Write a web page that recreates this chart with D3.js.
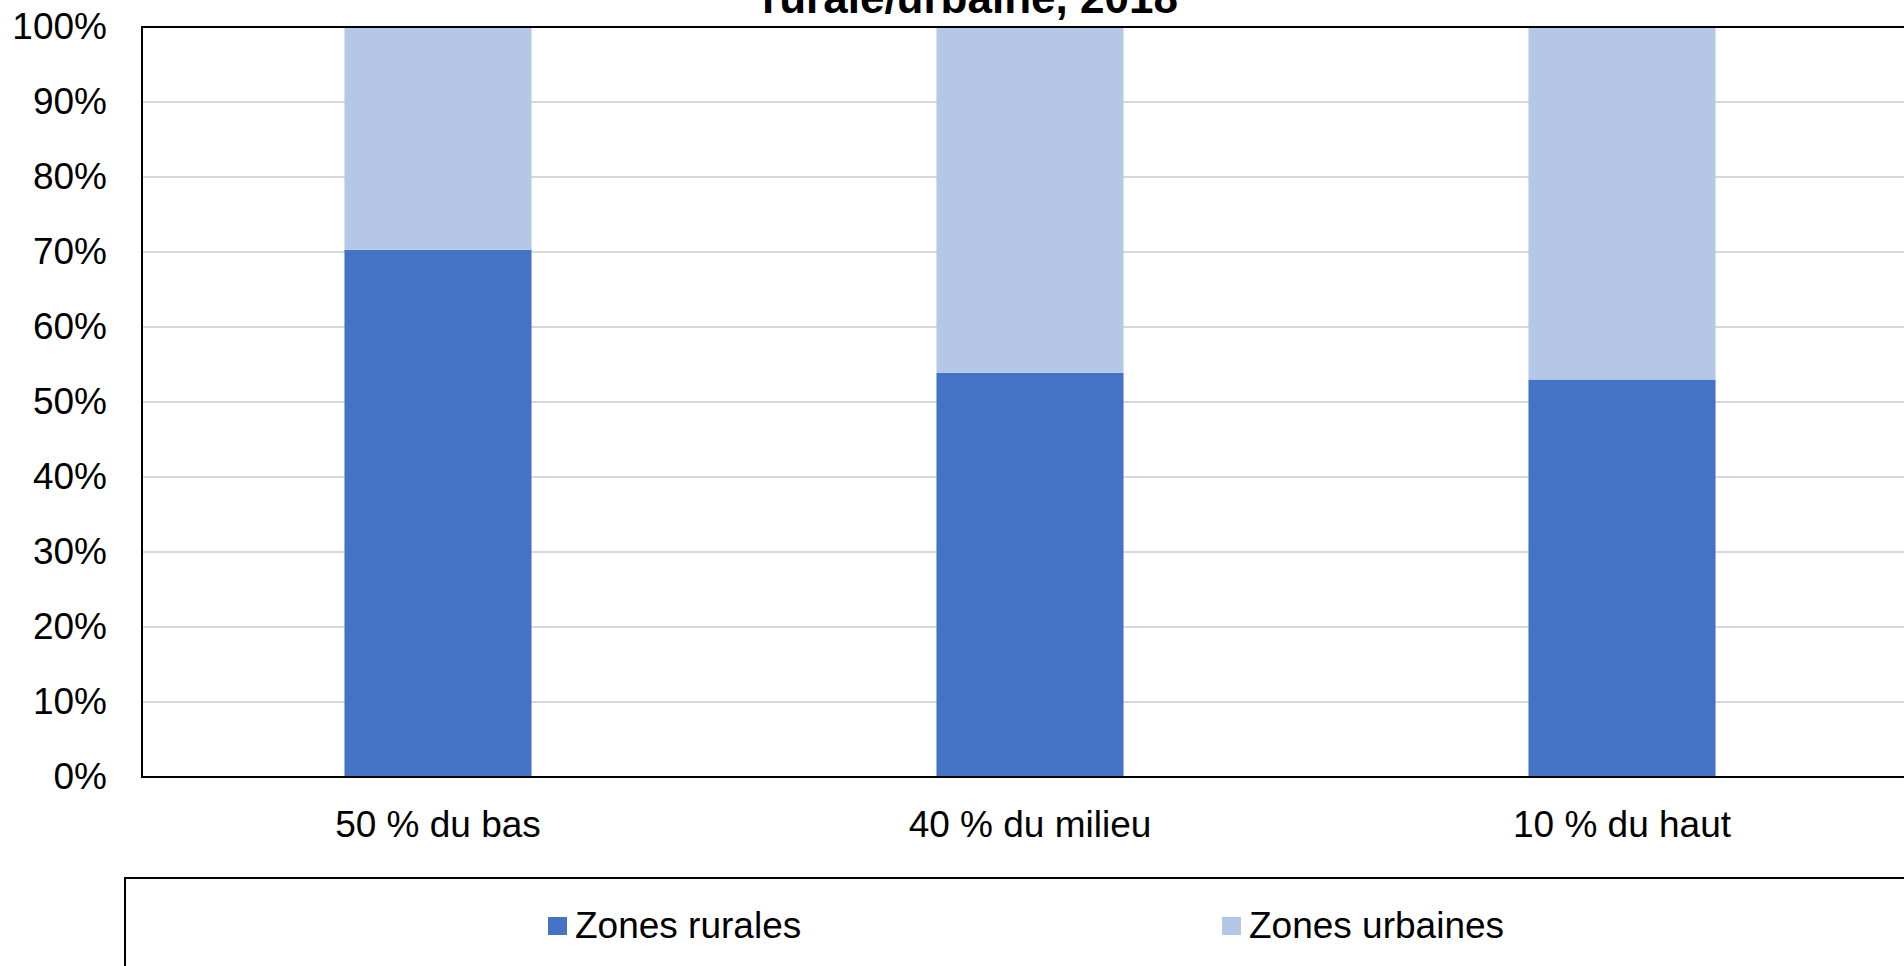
<!DOCTYPE html>
<html>
<head>
<meta charset="utf-8">
<script src="https://cdn.jsdelivr.net/npm/d3@7"></script>
<style>
  body { margin: 0; background: #fff; overflow: hidden; }
  text { font-family: "Liberation Sans", Arial, sans-serif; }
</style>
</head>
<body>
<div id="chart"></div>
<script>
// categories and the two stacked shares (percent)
var categories = ["50 % du bas", "40 % du milieu", "10 % du haut"];
var rural = [70.3, 53.9, 53.0];
var urbain = [29.7, 46.1, 47.0];
var seriesNames = ["Zones rurales", "Zones urbaines"];
var yTicks = [0, 10, 20, 30, 40, 50, 60, 70, 80, 90, 100];
var titleText = "rurale/urbaine, 2018";

var W = 1904, H = 966;
var margin = {top: 27, left: 142, bottom: 189};
var plotW = 1776, plotH = H - margin.top - margin.bottom;

var svg = d3.select("#chart").append("svg")
    .attr("width", W).attr("height", H);

// title, cut at the top like the source
svg.append("text")
   .attr("x", 970).attr("y", 13)
   .attr("text-anchor", "middle")
   .style("font-size", "44px").style("font-weight", "bold")
   .text(titleText);

var g = svg.append("g")
    .attr("transform", "translate(" + margin.left + "," + margin.top + ")");

var x = d3.scaleBand().domain(categories).range([0, plotW]).paddingInner(0.684).paddingOuter(0.342);
var y = d3.scaleLinear().domain([0, 100]).range([plotH, 0]);

// gridlines
g.append("g").selectAll("line")
  .data(yTicks.filter(function(d) { return d > 0 && d < 100; }))
  .enter().append("line")
    .attr("x1", 0).attr("x2", plotW)
    .attr("y1", function(d) { return y(d); })
    .attr("y2", function(d) { return y(d); })
    .attr("stroke", "#d9d9d9").attr("stroke-width", 2);

// stacked bars
var rows = categories.map(function(c, i) { return {cat: c, rural: rural[i], urbain: urbain[i]}; });
var stack = d3.stack().keys(["rural", "urbain"])(rows);
var color = d3.scaleOrdinal().domain(["rural", "urbain"]).range(["#4472c4", "#b4c7e7"]);

g.append("g").selectAll("g")
  .data(stack).enter().append("g")
    .attr("fill", function(d) { return color(d.key); })
  .selectAll("rect")
  .data(function(d) { return d; })
  .enter().append("rect")
    .attr("x", function(d) { return x(d.data.cat); })
    .attr("width", x.bandwidth())
    .attr("y", function(d) { return y(d[1]); })
    .attr("height", function(d) { return y(d[0]) - y(d[1]); });

// frame: top, left, bottom
g.append("path")
  .attr("d", "M" + (plotW + 10) + ",0H0V" + plotH + "H" + (plotW + 10))
  .attr("fill", "none").attr("stroke", "#000").attr("stroke-width", 2);

// y axis labels
var yAxis = d3.axisLeft(y).tickValues(yTicks).tickSize(0).tickPadding(35)
    .tickFormat(function(d) { return d + "%"; });
g.append("g").call(yAxis)
  .call(function(a) { a.select(".domain").remove(); })
  .selectAll("text")
    .style("font-size", "37px").style("font-family", "Liberation Sans, Arial, sans-serif")
    .attr("fill", "#000");

// x axis labels
var xAxis = d3.axisBottom(x).tickSize(0).tickPadding(34);
g.append("g").attr("transform", "translate(0," + plotH + ")").call(xAxis)
  .call(function(a) { a.select(".domain").remove(); })
  .selectAll("text")
    .style("font-size", "37px").style("font-family", "Liberation Sans, Arial, sans-serif")
    .attr("fill", "#000");

// legend box
svg.append("rect")
   .attr("x", 125).attr("y", 878).attr("width", 1800).attr("height", 200)
   .attr("fill", "none").attr("stroke", "#000").attr("stroke-width", 2);

var legendX = [548, 1222];
var leg = svg.append("g").selectAll("g")
  .data(["rural", "urbain"]).enter().append("g")
    .attr("transform", function(d, i) { return "translate(" + legendX[i] + ",917)"; });
leg.append("rect").attr("width", 19).attr("height", 18)
   .attr("fill", function(d) { return color(d); });
leg.append("text").attr("x", 27).attr("y", 8).attr("dy", "0.36em")
   .style("font-size", "37px")
   .text(function(d, i) { return seriesNames[i]; });
</script>
</body>
</html>
